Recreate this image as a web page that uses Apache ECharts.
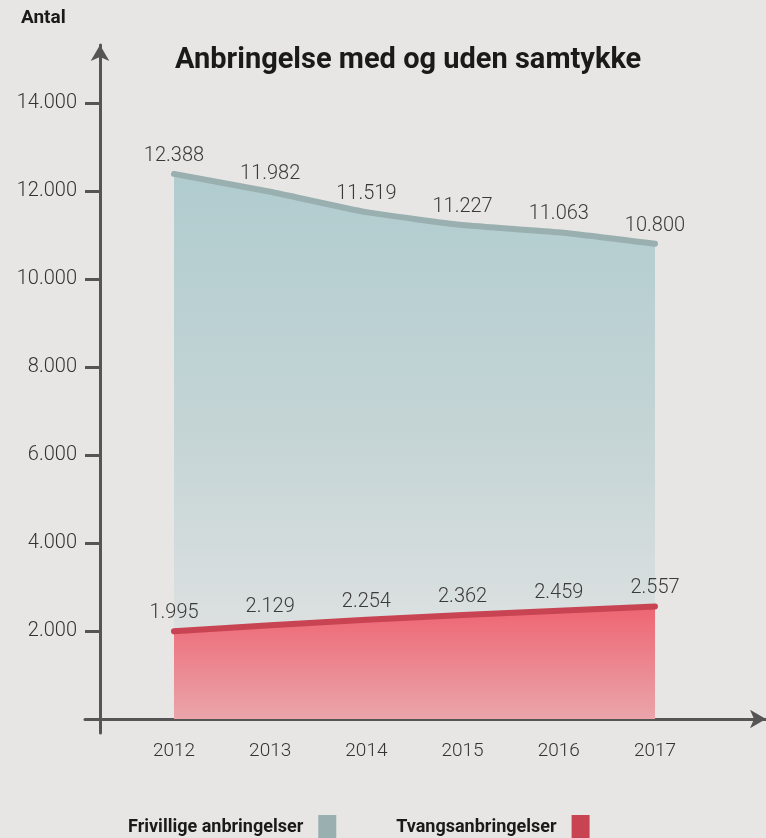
<!DOCTYPE html>
<html>
<head>
<meta charset="utf-8">
<script src="https://cdn.jsdelivr.net/npm/echarts@6/dist/echarts.min.js"></script>
<style>
  html, body { margin: 0; padding: 0; background: #e7e6e4; }
  #chart { width: 766px; height: 838px; }
</style>
</head>
<body>
<div id="chart"></div>
<script>
var years = [2012, 2013, 2014, 2015, 2016, 2017];
var frivillige = [12388, 11982, 11519, 11227, 11063, 10800];
var tvang = [1995, 2129, 2254, 2362, 2459, 2557];
var yTicks = [2000, 4000, 6000, 8000, 10000, 12000, 14000];
var seriesNames = ['Frivillige anbringelser', 'Tvangsanbringelser'];

function fmt(n) {
    return String(n).replace(/\B(?=(\d{3})+(?!\d))/g, '.');
}
function pairs(vals) {
    return vals.map(function (v, i) { return [years[i], v]; });
}

var chart = echarts.init(document.getElementById('chart'), null, {renderer: 'canvas'});
var labelStyle = {
    show: true,
    position: 'top',
    distance: 7,
    color: '#3a3a3a',
    fontFamily: 'Roboto',
    fontWeight: 300,
    fontSize: 20,
    formatter: function (p) { return fmt(p.value[1]); }
};

var option = {
    backgroundColor: '#e7e6e4',
    animation: false,
    title: [
        {
            text: 'Antal',
            left: 21, top: 9, padding: 0,
            textStyle: {fontFamily: 'Roboto', fontWeight: 'bold', fontSize: 19, color: '#1a1a1a'}
        },
        {
            text: 'Anbringelse med og uden samtykke',
            left: 175, top: 46, padding: 0,
            textStyle: {fontFamily: 'Roboto', fontWeight: 'bold', fontSize: 29, color: '#1a1a1a'}
        }
    ],
    legend: {
        left: 128, top: 815,
        padding: 0,
        align: 'right',
        icon: 'rect',
        itemWidth: 18, itemHeight: 24,
        itemGap: 60,
        data: seriesNames,
        textStyle: {
            fontFamily: 'Roboto', fontWeight: 'bold', fontSize: 18, color: '#1a1a1a',
            padding: [0, 10, 0, 0]
        }
    },
    grid: {left: 85, right: 0, top: 45, bottom: 105, containLabel: false},
    xAxis: {
        type: 'value',
        min: 2011.075,
        max: 2018.154,
        splitLine: {show: false},
        axisLine: {
            show: true, onZero: true,
            symbol: ['none', 'arrow'], symbolSize: [14, 16],
            lineStyle: {color: '#555555', width: 3}
        },
        axisTick: {show: false},
        axisLabel: {
            customValues: years,
            margin: 9,
            color: '#333333',
            fontFamily: 'Roboto', fontWeight: 300, fontSize: 19,
            formatter: function (v) { return String(v); }
        }
    },
    yAxis: {
        type: 'value',
        min: -318,
        max: 15318,
        offset: -15,
        splitLine: {show: false},
        axisLine: {
            show: true, onZero: false,
            symbol: ['none', 'arrow'], symbolSize: [14, 16],
            lineStyle: {color: '#555555', width: 3}
        },
        axisTick: {
            show: true, customValues: yTicks, length: 15,
            lineStyle: {color: '#555555', width: 3}
        },
        axisLabel: {
            customValues: yTicks,
            margin: 23,
            color: '#333333',
            fontFamily: 'Roboto', fontWeight: 300, fontSize: 20,
            formatter: function (v) { return fmt(v); }
        }
    },
    series: [
        {
            name: seriesNames[0],
            type: 'line',
            data: pairs(frivillige),
            smooth: 0.15,
            symbol: 'circle',
            symbolSize: 2,
            showSymbol: true,
            emphasis: {disabled: true},
            itemStyle: {color: '#9aafb0'},
            lineStyle: {color: '#9aafb0', width: 6, cap: 'round', join: 'round'},
            areaStyle: {
                origin: 0,
                opacity: 1,
                color: new echarts.graphic.LinearGradient(0, 0, 0, 1, [
                    {offset: 0, color: '#b0cccf'},
                    {offset: 0.5, color: '#c6d5d6'},
                    {offset: 0.8, color: '#dadfdf'},
                    {offset: 1, color: '#dfe1e1'}
                ])
            },
            label: labelStyle,
            z: 2
        },
        {
            name: seriesNames[1],
            type: 'line',
            data: pairs(tvang),
            symbol: 'circle',
            symbolSize: 2,
            showSymbol: true,
            emphasis: {disabled: true},
            itemStyle: {color: '#c84452'},
            lineStyle: {color: '#c84452', width: 6, cap: 'round', join: 'round'},
            areaStyle: {
                origin: 0,
                opacity: 1,
                color: new echarts.graphic.LinearGradient(0, 0, 0, 1, [
                    {offset: 0, color: '#ee6572'},
                    {offset: 1, color: '#eaa5ab'}
                ])
            },
            label: labelStyle,
            z: 3
        }
    ]
};
chart.setOption(option);
</script>
</body>
</html>
